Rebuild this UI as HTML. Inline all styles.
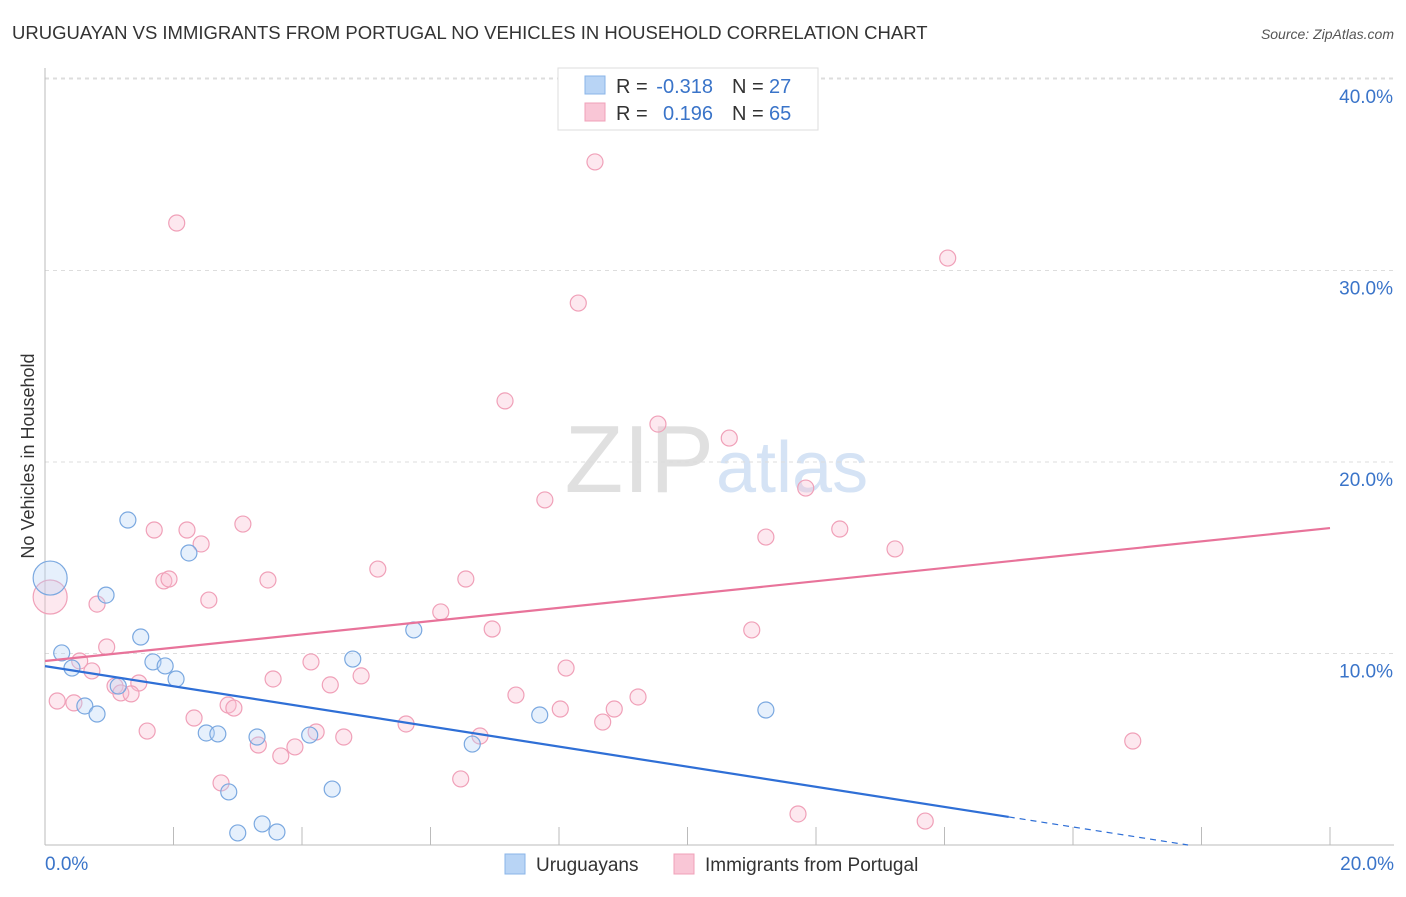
<!DOCTYPE html>
<html><head><meta charset="utf-8"><style>
body{margin:0;background:#fff;font-family:"Liberation Sans",sans-serif}
svg text{font-family:"Liberation Sans",sans-serif}
</style></head><body>
<svg id="chart" width="1406" height="892" xmlns="http://www.w3.org/2000/svg">
<text x="12" y="39" font-size="18.5" fill="#333">URUGUAYAN VS IMMIGRANTS FROM PORTUGAL NO VEHICLES IN HOUSEHOLD CORRELATION CHART</text>
<text x="1394" y="39" font-size="14" fill="#555" text-anchor="end" font-style="italic">Source: ZipAtlas.com</text>
<text x="714" y="492" font-size="96" fill="#e0e0e0" text-anchor="end" font-family="Liberation Serif">ZIP</text>
<text x="716" y="492" font-size="72" fill="#d5e3f5">atlas</text>
<g id="grid"></g>
<g id="axes"></g>
<g id="marks"></g>
<text transform="translate(34,456) rotate(-90)" font-size="18" fill="#333" text-anchor="middle">No Vehicles in Household</text>
<g>
<rect x="558" y="68" width="260" height="62" fill="#fff" stroke="#ddd"/>
<rect x="585" y="76" width="20" height="18" fill="#b8d4f5" stroke="#8ab4e8"/>
<rect x="585" y="103" width="20" height="18" fill="#f9c6d6" stroke="#f0a0b8"/>
<text x="616" y="93" font-size="20" fill="#333">R =</text>
<text x="713" y="93" font-size="20" fill="#3a74c9" text-anchor="end">-0.318</text>
<text x="732" y="93" font-size="20" fill="#333">N =</text>
<text x="769" y="93" font-size="20" fill="#3a74c9">27</text>
<text x="616" y="120" font-size="20" fill="#333">R =</text>
<text x="713" y="120" font-size="20" fill="#3a74c9" text-anchor="end">0.196</text>
<text x="732" y="120" font-size="20" fill="#333">N =</text>
<text x="769" y="120" font-size="20" fill="#3a74c9">65</text>
</g>
<g>
<rect x="505" y="854" width="20" height="20" fill="#b8d4f5" stroke="#8ab4e8"/>
<text x="536" y="871" font-size="19" fill="#333">Uruguayans</text>
<rect x="674" y="854" width="20" height="20" fill="#f9c6d6" stroke="#f0a0b8"/>
<text x="705" y="871" font-size="19" fill="#333">Immigrants from Portugal</text>
</g>
</svg>
<script>
const yTicks=[10,20,30,40];
const yTickLabels=["10.0%","20.0%","30.0%","40.0%"];
const xTicks=[2,4,6,8,10,12,14,16,18,20];
const xEndLabels=["0.0%","20.0%"];
const blueX=[1.29,2.24,0.95,1.49,0.26,0.42,1.68,1.87,2.04,1.14,0.62,0.81,2.51,2.69,3.30,4.12,2.86,3.00,3.38,3.61,4.47,4.79,5.74,6.65,7.70,11.22];
const blueY=[16.97,15.25,13.05,10.86,10.03,9.24,9.56,9.35,8.67,8.30,7.26,6.84,5.85,5.80,5.64,5.74,2.77,0.63,1.10,0.68,2.92,9.71,11.23,5.27,6.79,7.05];
const pinkX=[8.56,2.05,14.05,8.30,7.16,9.54,10.65,11.84,7.78,12.37,11.22,13.23,1.70,2.21,3.08,2.43,5.18,1.85,1.93,3.47,6.55,2.55,0.81,6.16,6.96,11.00,0.96,0.54,0.73,4.14,8.11,4.92,3.55,4.44,1.46,1.09,1.18,1.34,7.33,9.23,8.86,8.02,0.19,0.45,2.85,2.94,2.32,5.62,1.59,4.22,4.65,3.32,3.89,3.67,6.77,2.74,6.47,16.93,8.68,11.72,13.70];
const pinkY=[35.67,32.48,30.65,28.30,23.19,21.98,21.25,18.64,18.02,16.50,16.08,15.46,16.45,16.45,16.76,15.72,14.41,13.79,13.89,13.84,13.89,12.79,12.58,12.17,11.28,11.23,10.34,9.61,9.09,9.56,9.24,8.83,8.67,8.36,8.46,8.30,7.94,7.89,7.83,7.73,7.10,7.10,7.52,7.42,7.31,7.15,6.63,6.32,5.95,5.90,5.64,5.22,5.12,4.65,5.69,3.24,3.45,5.43,6.42,1.62,1.25];
const bigBlue=[0.08,13.94];
const bigPink=[0.08,12.95];
const blueLine=[9.34,-0.525];
const pinkLine=[9.61,0.347];
const NS="http://www.w3.org/2000/svg";
const X=v=>45+v*64.25, Y=v=>845-v*19.15;
function mk(t,a,p){const e=document.createElementNS(NS,t);for(const k in a)e.setAttribute(k,a[k]);p.appendChild(e);return e;}
const grid=document.getElementById('grid'),axes=document.getElementById('axes'),marks=document.getElementById('marks');
yTicks.forEach((t,i)=>{
 const l=mk('line',{x1:45,x2:1394,y1:Y(t),y2:Y(t),stroke:'#ddd','stroke-dasharray':'4,4'},grid);
 
 
 const tx=mk('text',{x:1393,y:Y(t)+24,'font-size':19,fill:'#3a74c9','text-anchor':'end'},axes);
 tx.textContent=yTickLabels[i];
 
 
});
const tl=mk('line',{x1:45,x2:1394,y1:78,y2:78,stroke:'#ddd','stroke-dasharray':'4,4'},grid);


const ya=mk('line',{x1:45,x2:45,y1:68,y2:845,stroke:'#bbb'},axes);


const xa=mk('line',{x1:45,x2:1394,y1:845,y2:845,stroke:'#bbb'},axes);


xTicks.forEach(t=>{
 const l=mk('line',{x1:X(t),x2:X(t),y1:827,y2:845,stroke:'#bbb'},axes);
 
 
});
[[0,'start',45],[20,'end',1394]].forEach((d,i)=>{
 const tx=mk('text',{x:d[2],y:870,'font-size':19,fill:'#3a74c9','text-anchor':d[1]},axes);
 tx.textContent=xEndLabels[i];
 
 
});
function dot(x,y,r,fill,stroke,name){
 const c=mk('circle',{cx:X(x),cy:Y(y),r:r,fill:fill,stroke:stroke,'stroke-width':1.2},marks);
 
 
}
pinkX.forEach((x,i)=>dot(x,pinkY[i],8,'rgba(248,190,208,0.35)','#f0a0b8','pink-point'));
dot(bigPink[0],bigPink[1],17,'rgba(248,190,208,0.35)','#f0a0b8','pink-point-large');
blueX.forEach((x,i)=>dot(x,blueY[i],8,'rgba(184,212,245,0.35)','#7aa8e0','blue-point'));
dot(bigBlue[0],bigBlue[1],17,'rgba(184,212,245,0.35)','#7aa8e0','blue-point-large');
const by0=v=>blueLine[0]+blueLine[1]*v, py0=v=>pinkLine[0]+pinkLine[1]*v;
const bl=mk('line',{x1:X(0),y1:Y(by0(0)),x2:X(15),y2:Y(by0(15)),stroke:'#2f6fd6','stroke-width':2.2},marks);


const xe=-blueLine[0]/blueLine[1];
const bd=mk('line',{x1:X(15),y1:Y(by0(15)),x2:X(xe),y2:Y(0),stroke:'#2f6fd6','stroke-width':1.2,'stroke-dasharray':'6,5'},marks);


const pl=mk('line',{x1:X(0),y1:Y(py0(0)),x2:X(20),y2:Y(py0(20)),stroke:'#e8739a','stroke-width':2.2},marks);


</script>
</body></html>
